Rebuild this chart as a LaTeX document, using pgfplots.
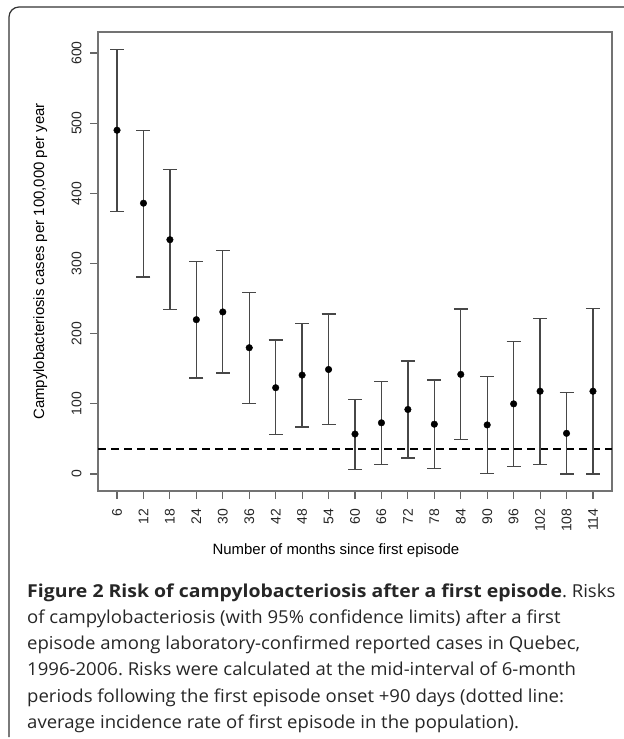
\documentclass[border=0pt]{standalone}
\usepackage{fontspec}
\setmainfont{Liberation Sans}
\newfontfamily\capfont[FakeStretch=1.04, BoldFeatures={FakeStretch=1.09}]{Open Sans}
\usepackage{pgfplots}
\usepackage{pgfplotstable}
\pgfplotsset{compat=1.18}

\pgfplotstableread{
x   y   ep   em
6   490 115  116
12  386 104  105
18  334 100  100
24  220 83   83
30  231 88   87
36  180 79   79
42  123 68   67
48  141 74   74
54  149 79   78
60  57  49   51
66  73  59   59
72  92  69   69
78  71  63   63
84  142 93   93
90  70  69   69
96  100 89   89
102 118 104  104
108 58  58   58
114 118 118  118
}\datatable

\begin{document}
\frenchspacing
\begin{tikzpicture}
\begin{axis}[
  scale only axis,
  width=514bp, height=459bp,
  at={(98bp,-491bp)}, anchor=south west,
  xmin=1.68, xmax=118.32, ymin=-24.2, ymax=630,
  xtick={6,12,...,114}, ytick={0,100,...,600},
  xtick pos=bottom, ytick pos=left,
  tick align=outside, major tick length=8bp,
  tick style={black!60, line width=1.1bp},
  axis line style={black!55, line width=1.3bp},
  /pgf/number format/assume math mode=true,
  tick label style={font=\fontsize{14}{16}\selectfont, text=black!85},
  xticklabel style={rotate=90, anchor=east},
  yticklabel style={rotate=90, anchor=south},
  xticklabel shift=6bp, yticklabel shift=5bp,
  xlabel={Number of months since first episode},
  ylabel={Campylobacteriosis cases per 100,000 per year},
  label style={font=\fontsize{15}{17}\selectfont},
  xlabel style={at={(axis description cs:0.463,-0.1373)}, anchor=base},
  ylabel style={at={(axis description cs:-0.105,0.5)}, anchor=base, rotate=0},
  clip=false,
]
\addplot[black, line width=2bp, dash pattern=on 8bp off 5bp, forget plot] coordinates {(1.68,36) (118.32,36)};
\addplot[only marks, mark=*, mark size=3.3bp, mark options={fill=black, draw=black},
  error bars/.cd, y dir=both, y explicit, error mark=|,
  error bar style={black!72, line width=1.3bp},
  error mark options={black!72, line width=1.3bp, mark size=7bp}]
  table[x=x, y=y, y error plus=ep, y error minus=em] {\datatable};
\end{axis}
\draw[black!80, line width=1.2bp, rounded corners=10bp] (9bp,-737bp) -- (9bp,-7bp) -- (624bp,-7bp);
\begin{scope}[every node/.style={anchor=base west, inner sep=0pt, font=\capfont\fontsize{17.9}{21}\selectfont, text=black!85}]
\node at (27bp,-597.3bp) {\textbf{Figure 2 Risk of campylobacteriosis after a first episode}. Risks};
\node at (27bp,-623.5bp) {of campylobacteriosis (with 95\% confidence limits) after a first};
\node at (27bp,-649.7bp) {episode among laboratory-confirmed reported cases in Quebec,};
\node at (27bp,-675.9bp) {1996-2006. Risks were calculated at the mid-interval of 6-month};
\node at (27bp,-702.1bp) {periods following the first episode onset +90 days (dotted line:};
\node at (27bp,-728.3bp) {average incidence rate of first episode in the population).};
\end{scope}
\pgfresetboundingbox
\path (0,0) rectangle (624bp,-739bp);
\end{tikzpicture}
\end{document}
